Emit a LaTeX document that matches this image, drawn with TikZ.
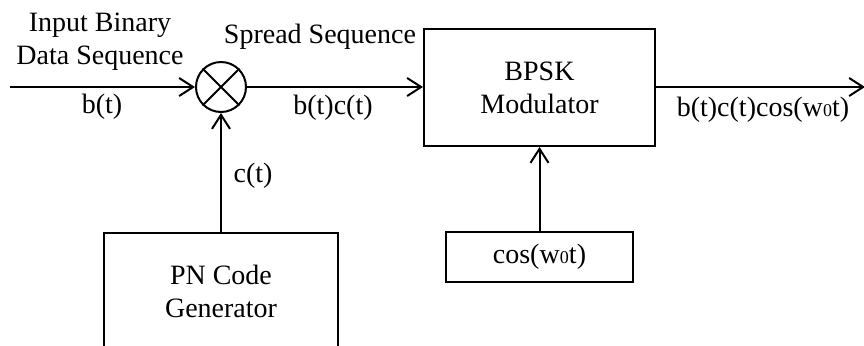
\documentclass[tikz,border=0pt]{standalone}
\usepackage{fontspec}
\setmainfont{Liberation Serif}
\usetikzlibrary{arrows.meta}
% carrier frequency symbol: w with a small zero
\newcommand\wnought{w\kern0.2bp{\fontsize{18bp}{18bp}\selectfont 0}}
\begin{document}
\begin{tikzpicture}[x=1bp, y=-1bp, line width=2bp,
  every node/.style={font=\fontsize{28bp}{33bp}\selectfont, inner sep=0pt},
  block/.style={draw, rectangle, align=center},
  flow/.style={-{Straight Barb[length=14bp,width=18bp,line width=2bp]}},
  txt/.style={align=center}]
\useasboundingbox (0,0) rectangle (864,345);
\clip (0,0) rectangle (864,345);

% multiplier
\node[draw, circle, minimum size=50bp] (mix) at (221,87) {};
\draw (mix.45) -- (mix.225) (mix.135) -- (mix.315);

% blocks
\node[block, minimum width=231bp, minimum height=117bp] (bpsk) at (539.5,87.5) {BPSK\\Modulator};
\node[block, minimum width=187bp, minimum height=50bp] (osc) at (539.5,257) {cos(\wnought t)};
\node[block, minimum width=234bp, minimum height=116bp, anchor=north] (pn) at (221,232) {PN Code\\Generator};

% free ends of the signal line
\coordinate (src) at (10,87);
\coordinate (sink) at (865,87);

% connectors
\draw[flow] (src) -- (mix.west);
\draw[flow] (pn.north -| mix) -- (mix.south);
\draw[flow] (mix.east) -- (mix.east -| bpsk.west);
\draw[flow] (bpsk.east |- mix) -- (sink);
\draw[flow] (osc.north) -- (bpsk.south);

% signal labels
\node[txt] (inlbl) at (100,42) {Input Binary\\Data Sequence};
\node (bl) at (102,107) {b(t)};
\node (spread) at (320,37) {Spread Sequence};
\node (bcl) at (333,108) {b(t)c(t)};
\node (cl) at (253,176) {c(t)};
\node (outl) at (763,110) {b(t)c(t)cos(\wnought t)};
\end{tikzpicture}
\end{document}
